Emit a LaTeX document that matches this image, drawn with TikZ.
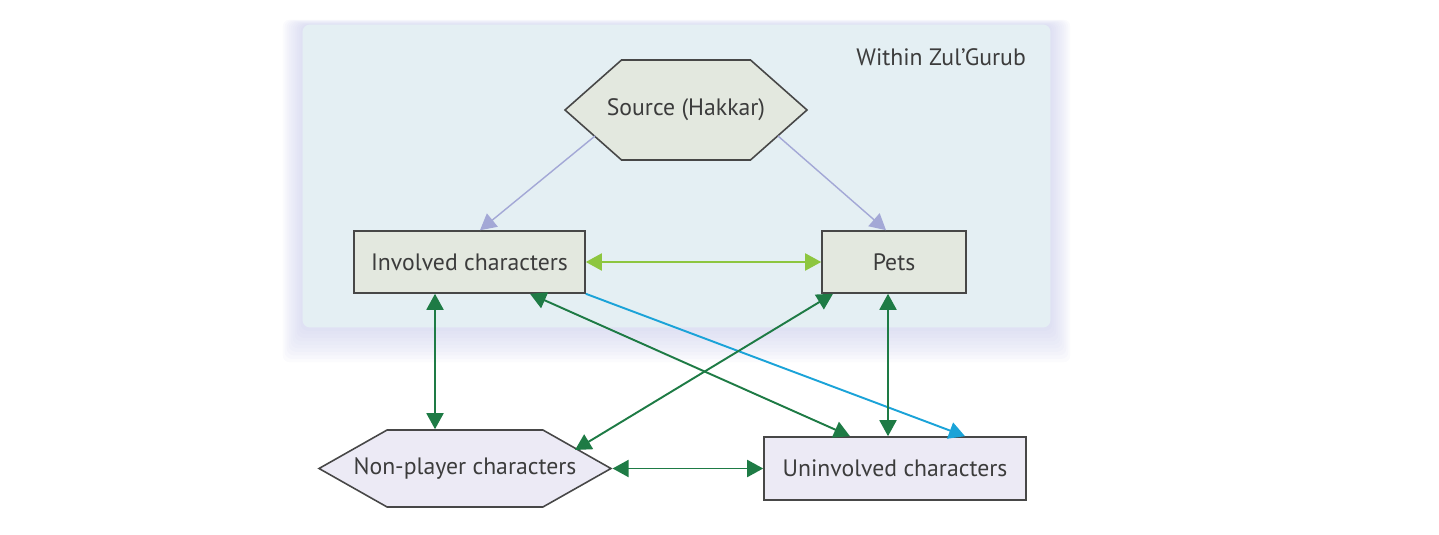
\documentclass[tikz,border=0pt]{standalone}
\usepackage{fontspec}
\setmainfont{PT Sans}
\usetikzlibrary{shapes.symbols,arrows.meta,positioning,calc,backgrounds}
\definecolor{zonefill}{HTML}{E4EFF3}
\definecolor{zoneshade}{HTML}{C2C5E8}
\definecolor{topfill}{HTML}{E3E8DF}
\definecolor{lowfill}{HTML}{ECEAF5}
\definecolor{edgegray}{HTML}{474747}
\definecolor{textgray}{HTML}{3C3C3C}
\definecolor{linkgreen}{HTML}{1E7B45}
\definecolor{petgreen}{HTML}{8DC63F}
\definecolor{srclav}{HTML}{A3A8D6}
\definecolor{linkcyan}{HTML}{1BA3D8}
\tikzset{
  charbox/.style={rectangle,draw=edgegray,fill=#1,line width=0.9pt,text=textgray,
    font=\fontsize{13.5}{16}\selectfont,inner sep=2pt},
  charbox/.default={topfill},
  hexnode/.style={signal,signal to=west and east,draw=edgegray,fill=#1,line width=0.9pt,
    text=textgray,font=\fontsize{13.5}{16}\selectfont,inner sep=2pt},
  hexnode/.default={topfill},
  link/.style={{Triangle[length=0.32cm,width=0.34cm]}-{Triangle[length=0.32cm,width=0.34cm]},
    line width=1.1pt,draw=#1},
  link/.default={linkgreen},
  feed/.style={-{Triangle[length=0.32cm,width=0.34cm]},line width=0.8pt,draw=#1},
  feed/.default={srclav},
}
\begin{document}
\begin{tikzpicture}
  \useasboundingbox (0,0) rectangle (28.78,10.68);
  % zone
  \node[rectangle,minimum width=14.94cm,minimum height=6.04cm,inner sep=0pt] (zone) at (13.53,7.16) {};
  \begin{scope}[on background layer]
    \foreach \s in {1,...,10}
      \fill[zoneshade,opacity=0.07,rounded corners=4pt]
        ([shift={(-0.04*\s,-0.07*\s)}]zone.south west) rectangle ([shift={(0.04*\s,0.01*\s)}]zone.north east);
    \fill[zonefill,rounded corners=4pt] (zone.south west) rectangle (zone.north east);
  \end{scope}
  \node[anchor=east,text=textgray,font=\fontsize{13.5}{16}\selectfont] (within) at (20.64,9.54) {Within Zul’Gurub};
  % characters
  \node[hexnode,minimum width=4.84cm,minimum height=2cm,signal pointer angle=83,inner xsep=-0.3cm] (src) at (13.72,8.48) {Source (Hakkar)};
  \node[charbox,minimum width=4.62cm,minimum height=1.24cm] (inv) at (9.39,5.44) {Involved characters};
  \node[charbox,minimum width=2.88cm,minimum height=1.24cm] (pets) at (17.88,5.44) {Pets};
  \node[hexnode=lowfill,minimum width=5.68cm,minimum height=1.54cm,signal pointer angle=59,inner xsep=-0.67cm] (npc) at (9.30,1.31) {Non-player characters};
  \node[charbox=lowfill,minimum width=5.24cm,minimum height=1.26cm] (uninv) at (17.90,1.31) {Uninvolved characters};
  % links
  \draw[feed] ([shift={(-1.82,-0.52)}]src.center) -- ([xshift=0.21cm]inv.north);
  \draw[feed] ([shift={(1.84,-0.52)}]src.center) -- ([xshift=-0.16cm]pets.north);
  \draw[link=petgreen] (inv.east) -- (pets.west);
  \draw[link] ([xshift=-0.69cm]inv.south) -- ([xshift=-0.69cm]inv.south |- npc.north);
  \draw[link] ([xshift=1.21cm]inv.south) -- ([xshift=-0.90cm]uninv.north);
  \draw[feed=linkcyan,line width=1.1pt] (inv.south east) -- ([xshift=1.40cm]uninv.north);
  \draw[link] ([xshift=-1.22cm]pets.south) -- ([shift={(2.2,0.37)}]npc.center);
  \draw[link] ([xshift=-0.12cm]pets.south) -- ([xshift=-0.12cm]pets.south |- uninv.north);
  \draw[link] (npc.east) -- (uninv.west);
\end{tikzpicture}
\end{document}
